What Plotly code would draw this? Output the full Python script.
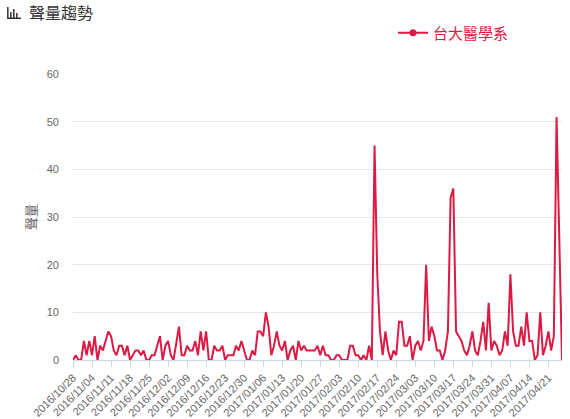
import datetime as dt
import plotly.graph_objects as go

# ---- data ----
start = dt.date(2016, 10, 28)
values = [
    0, 1, 0, 0, 4, 1, 4, 1, 5, 0,
    3, 2, 4, 6, 5, 2, 1, 3, 3, 1,
    3, 0, 1, 2, 2, 1, 2, 0, 0, 1,
    1, 3, 5, 0, 3, 4, 1, 0, 4, 7,
    1, 1, 3, 2, 2, 4, 1, 6, 2, 6,
    0, 0, 3, 2, 2, 3, 0, 1, 1, 1,
    3, 2, 4, 2, 0, 0, 2, 1, 6, 6,
    5, 10, 7, 1, 3, 6, 3, 2, 4, 0,
    2, 3, 0, 4, 2, 3, 2, 2, 2, 2,
    3, 1, 3, 1, 1, 0, 0, 1, 1, 0,
    0, 0, 3, 3, 1, 1, 0, 1, 0, 3,
    0, 45, 18, 6, 1, 6, 2, 0, 2, 1,
    8, 8, 3, 3, 5, 0, 3, 4, 2, 4,
    20, 4, 7, 5, 2, 2, 0, 2, 6, 34,
    36, 6, 5, 4, 2, 1, 3, 6, 2, 1,
    4, 8, 2, 12, 2, 4, 3, 1, 2, 6,
    3, 18, 6, 3, 3, 7, 3, 10, 4, 4,
    0, 1, 10, 1, 3, 6, 2, 5, 51, 26,
    0,
]
dates = [(start + dt.timedelta(days=i)).strftime("%Y/%m/%d") for i in range(len(values))]
tick_labels = dates[::7]
series_name = "台大醫學系"
y_title = "聲量"
chart_title = "聲量趨勢"

RED = "#dc1a44"
GRAY = "#666666"
AXIS = "#ccd6eb"
GRID = "#e6e6e6"
FONT = "Liberation Sans, Noto Sans CJK TC, sans-serif"
CJK = "Noto Sans CJK TC, sans-serif"

W, H = 570, 419
L, T = 73, 74
R = W - 562.5
B = H - 360
PW, PH = W - L - R, H - T - B

fig = go.Figure()
fig.add_trace(go.Scatter(
    x=dates, y=values, mode="lines", name=series_name,
    line=dict(color=RED, width=2), showlegend=False,
))
fig.add_trace(go.Scatter(
    x=[dates[0]], y=[None], mode="lines+markers", name=series_name,
    line=dict(color=RED, width=2), marker=dict(color=RED, size=7, symbol="circle"),
    showlegend=True,
))

fig.update_layout(
    width=W, height=H,
    margin=dict(l=L, r=R, t=T, b=B, autoexpand=False),
    paper_bgcolor="white", plot_bgcolor="white",
    font=dict(family=FONT, size=11, color=GRAY),
    legend=dict(
        xref="container", yref="container",
        x=393 / W, y=1 - 33 / H, xanchor="left", yanchor="middle",
        font=dict(family=CJK, size=15, color=RED),
        bgcolor="rgba(0,0,0,0)", itemwidth=30,
    ),
    xaxis=dict(
        type="category", range=[0, len(values) - 1], automargin=False,
        tickmode="array", tickvals=tick_labels, ticktext=tick_labels,
        tickangle=-45, ticks="outside", ticklen=6, tickcolor=AXIS,
        showline=True, linecolor=AXIS, linewidth=1,
        showgrid=False, zeroline=False,
        tickfont=dict(size=11, color=GRAY),
    ),
    yaxis=dict(
        range=[0, 60], dtick=10, showgrid=True, gridcolor=GRID, gridwidth=1,
        zeroline=False, showline=False, ticks="", automargin=False,
        ticklabelstandoff=13,
        tickfont=dict(size=11, color=GRAY),
    ),
)

def px_x(p):
    return (p - L) / PW
def px_y(p):
    return (H - B - p) / PH

# y-axis title
fig.add_annotation(
    text=y_title, xref="paper", yref="paper", x=px_x(30), y=px_y(217),
    xanchor="center", yanchor="middle", textangle=-90, showarrow=False,
    font=dict(family=CJK, size=13, color=GRAY),
)
# title with small bar-chart icon
fig.add_annotation(
    text=chart_title, xref="paper", yref="paper",
    x=px_x(27), y=px_y(12), xanchor="left", yanchor="middle",
    showarrow=False, font=dict(family=CJK, size=16, color="#333333"),
)
for (x0, x1, y0, y1) in [(7, 8.5, 7, 18), (10, 11.5, 12, 18), (13, 14.5, 9, 18), (16, 17.5, 13, 18), (7, 21, 17.5, 19)]:
    fig.add_shape(type="rect", xref="paper", yref="paper",
                  x0=px_x(x0), x1=px_x(x1), y0=px_y(y1), y1=px_y(y0),
                  fillcolor="#333333", line=dict(width=0))

fig.write_html("out.html", config={"displayModeBar": False},
               post_script="document.body.style.margin='0';")
